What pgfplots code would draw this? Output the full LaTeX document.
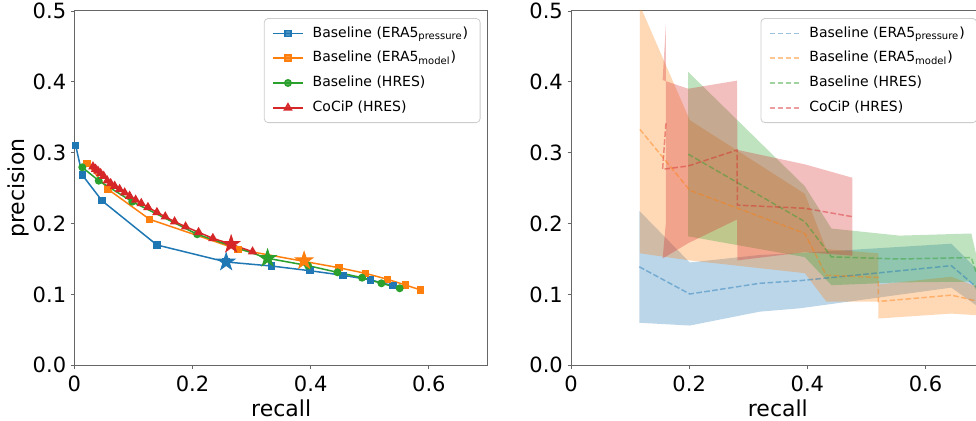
\documentclass[border=0pt]{standalone}
\usepackage{fontspec}
\setmainfont{DejaVu Sans}
\usepackage{pgfplots}
\pgfplotsset{compat=1.18}
\usepgfplotslibrary{fillbetween}
\usepackage{pgfplotstable}

\definecolor{tabblue}{HTML}{1F77B4}
\definecolor{taborange}{HTML}{FF7F0E}
\definecolor{tabgreen}{HTML}{2CA02C}
\definecolor{tabred}{HTML}{D62728}

\pgfdeclareplotmark{fstar}{%
  \pgfpathmoveto{\pgfpointpolar{90}{\pgfplotmarksize}}%
  \pgfpathlineto{\pgfpointpolar{126}{0.382\pgfplotmarksize}}%
  \pgfpathlineto{\pgfpointpolar{162}{\pgfplotmarksize}}%
  \pgfpathlineto{\pgfpointpolar{198}{0.382\pgfplotmarksize}}%
  \pgfpathlineto{\pgfpointpolar{234}{\pgfplotmarksize}}%
  \pgfpathlineto{\pgfpointpolar{270}{0.382\pgfplotmarksize}}%
  \pgfpathlineto{\pgfpointpolar{306}{\pgfplotmarksize}}%
  \pgfpathlineto{\pgfpointpolar{342}{0.382\pgfplotmarksize}}%
  \pgfpathlineto{\pgfpointpolar{18}{\pgfplotmarksize}}%
  \pgfpathlineto{\pgfpointpolar{54}{0.382\pgfplotmarksize}}%
  \pgfpathclose
  \pgfusepathqfillstroke
}

% ---------- left panel data ----------
\pgfplotstableread{
x y
0.0024 0.3100
0.0135 0.2686
0.0468 0.2323
0.1398 0.1698
0.2570 0.1458
0.3337 0.1401
0.3985 0.1335
0.4548 0.1270
0.5016 0.1204
0.5393 0.1123
}\Lblue
\pgfplotstableread{
x y
0.0215 0.2851
0.0570 0.2484
0.1275 0.2060
0.2768 0.1637
0.4475 0.1377
0.4926 0.1298
0.5298 0.1214
0.5603 0.1133
0.5861 0.1063
}\Lorange
\pgfplotstableread{
x y
0.0135 0.2794
0.0413 0.2605
0.0981 0.2309
0.2079 0.1849
0.3270 0.1510
0.3956 0.1406
0.4453 0.1312
0.4869 0.1236
0.5197 0.1157
0.5506 0.1087
}\Lgreen
\pgfplotstableread{
x y
0.0316 0.2803
0.0361 0.2770
0.0401 0.2742
0.0446 0.2709
0.0497 0.2671
0.0558 0.2605
0.0615 0.2568
0.0683 0.2530
0.0767 0.2484
0.0852 0.2436
0.0936 0.2389
0.1038 0.2333
0.1133 0.2286
0.1246 0.2230
0.1398 0.2159
0.1539 0.2097
0.1697 0.2027
0.1883 0.1956
0.2103 0.1877
0.2345 0.1792
0.2654 0.1708
0.3016 0.1603
}\Lred

% ---------- right panel data (x, mean, lower, upper) ----------
\pgfplotstableread{
x m lo hi
0.1155 0.1390 0.0600 0.2180
0.2010 0.1006 0.0561 0.1451
0.3195 0.1157 0.0757 0.1557
0.3870 0.1194 0.0804 0.1584
0.6436 0.1406 0.1096 0.1716
0.6850 0.1110 0.0850 0.1370
0.7200 0.1000 0.0800 0.1200
}\Rblue
\pgfplotstableread{
x m lo hi
0.1166 0.3330 0.1580 0.5080
0.2010 0.2470 0.1480 0.3460
0.3956 0.1860 0.1300 0.2420
0.4320 0.1270 0.0900 0.1640
0.5200 0.1240 0.0900 0.1580
0.5200 0.0900 0.0660 0.1140
0.6436 0.0990 0.0730 0.1250
0.6800 0.0920 0.0710 0.1130
0.7200 0.0900 0.0700 0.1100
}\Rorange
\pgfplotstableread{
x m lo hi
0.1983 0.2980 0.1820 0.4140
0.3956 0.2027 0.1527 0.2527
0.4407 0.1530 0.1130 0.1930
0.5560 0.1500 0.1170 0.1830
0.6774 0.1520 0.1180 0.1860
0.6900 0.1200 0.1000 0.1400
0.7200 0.1100 0.0900 0.1300
}\Rgreen
\pgfplotstableread{
x m lo hi
0.1606 0.3415 0.2015 0.4815
0.1550 0.2766 0.1506 0.4026
0.1983 0.2813 0.1723 0.3903
0.2810 0.3038 0.2058 0.4018
0.2815 0.2260 0.1480 0.3040
0.3956 0.2216 0.1596 0.2836
0.4760 0.2097 0.1547 0.2647
}\Rred

\pgfplotsset{
  panel/.style={
    scale only axis, width=206.85pt, height=177.15pt,
    xmin=0, xmax=0.7, ymin=0, ymax=0.5,
    xtick={0,0.2,0.4,0.6}, xticklabels={0,0.2,0.4,0.6},
    ytick={0,0.1,0.2,0.3,0.4,0.5}, yticklabels={0.0,0.1,0.2,0.3,0.4,0.5},
    tick align=outside, xtick pos=left, ytick pos=left,
    major tick length=1.75pt,
    tick style={black!60, line width=0.4pt},
    axis line style={black!60, line width=0.5pt},
    ticklabel style={font=\fontsize{10.5}{12}\selectfont},
    yticklabel style={xshift=1.2pt},
    label style={font=\fontsize{11}{13}\selectfont},
    xlabel={recall},
    xlabel style={yshift=3pt},
    /pgf/number format/assume math mode=true,
    legend style={font=\fontsize{7}{8.5}\selectfont, draw=black!20, rounded corners=2pt,
      fill=white, fill opacity=0.8, text opacity=1, draw opacity=1,
      at={(0.982,0.98)}, anchor=north east, inner xsep=4pt, inner ysep=2pt, row sep=1.6pt,
      /tikz/every odd column/.append style={column sep=2.5pt}},
    legend cell align=left,
  },
  linestyle/.style={line width=0.75pt},
  dashstyle/.style={line width=0.75pt, opacity=0.45, dash pattern=on 2.8pt off 1.2pt},
}

\begin{document}
\begin{tikzpicture}
\begin{axis}[panel, name=L, at={(0pt,0pt)}, anchor=south west,
  ylabel={precision}, ylabel shift=-5pt,
  legend image code/.code={\draw[mark repeat=2,mark phase=2] plot coordinates {(0pt,0pt) (7.5pt,0pt) (15pt,0pt)};}]
\addplot[tabblue, linestyle, mark=square*, mark size=1.5pt] table[x=x,y=y]{\Lblue};
\addlegendentry{Baseline (ERA5\textsubscript{pressure})}
\addplot[taborange, linestyle, mark=square*, mark size=1.5pt] table[x=x,y=y]{\Lorange};
\addlegendentry{Baseline (ERA5\textsubscript{model})}
\addplot[tabgreen, linestyle, mark=*, mark size=1.6pt] table[x=x,y=y]{\Lgreen};
\addlegendentry{Baseline (HRES)}
\addplot[tabred, linestyle, mark=triangle*, mark size=2pt] table[x=x,y=y]{\Lred};
\addlegendentry{CoCiP (HRES)}
\addplot[tabblue, only marks, mark=fstar, mark size=4.6pt, forget plot] coordinates {(0.2570,0.1458)};
\addplot[taborange, only marks, mark=fstar, mark size=4.6pt, forget plot] coordinates {(0.3889,0.1476)};
\addplot[tabgreen, only marks, mark=fstar, mark size=4.6pt, forget plot] coordinates {(0.3270,0.1510)};
\addplot[tabred, only marks, mark=fstar, mark size=4.6pt, forget plot] coordinates {(0.2654,0.1708)};
\end{axis}

\begin{axis}[panel, name=R, at={(248.35pt,0pt)}, anchor=south west,
  legend image code/.code={\draw plot coordinates {(0pt,0pt) (15pt,0pt)};}]
% blue
\addplot[draw=none, name path=bhi, forget plot] table[x=x,y=hi]{\Rblue};
\addplot[draw=none, name path=blo, forget plot] table[x=x,y=lo]{\Rblue};
\addplot[fill=tabblue, fill opacity=0.3, draw=none, forget plot] fill between[of=bhi and blo];
% orange
\addplot[draw=none, name path=ohi, forget plot] table[x=x,y=hi]{\Rorange};
\addplot[draw=none, name path=olo, forget plot] table[x=x,y=lo]{\Rorange};
\addplot[fill=taborange, fill opacity=0.3, draw=none, forget plot] fill between[of=ohi and olo];
% green
\addplot[draw=none, name path=ghi, forget plot] table[x=x,y=hi]{\Rgreen};
\addplot[draw=none, name path=glo, forget plot] table[x=x,y=lo]{\Rgreen};
\addplot[fill=tabgreen, fill opacity=0.3, draw=none, forget plot] fill between[of=ghi and glo];
% red
\addplot[draw=none, name path=rhi, forget plot] table[x=x,y=hi]{\Rred};
\addplot[draw=none, name path=rlo, forget plot] table[x=x,y=lo]{\Rred};
\addplot[fill=tabred, fill opacity=0.3, draw=none, forget plot] fill between[of=rhi and rlo];
% means
\addplot[tabblue, dashstyle] table[x=x,y=m]{\Rblue};
\addlegendentry{Baseline (ERA5\textsubscript{pressure})}
\addplot[taborange, dashstyle] table[x=x,y=m]{\Rorange};
\addlegendentry{Baseline (ERA5\textsubscript{model})}
\addplot[tabgreen, dashstyle] table[x=x,y=m]{\Rgreen};
\addlegendentry{Baseline (HRES)}
\addplot[tabred, dashstyle] table[x=x,y=m]{\Rred};
\addlegendentry{CoCiP (HRES)}
\end{axis}
\pgfresetboundingbox
\useasboundingbox (-37.15pt,-27.85pt) rectangle (450.85pt,182.65pt);
\end{tikzpicture}
\end{document}
